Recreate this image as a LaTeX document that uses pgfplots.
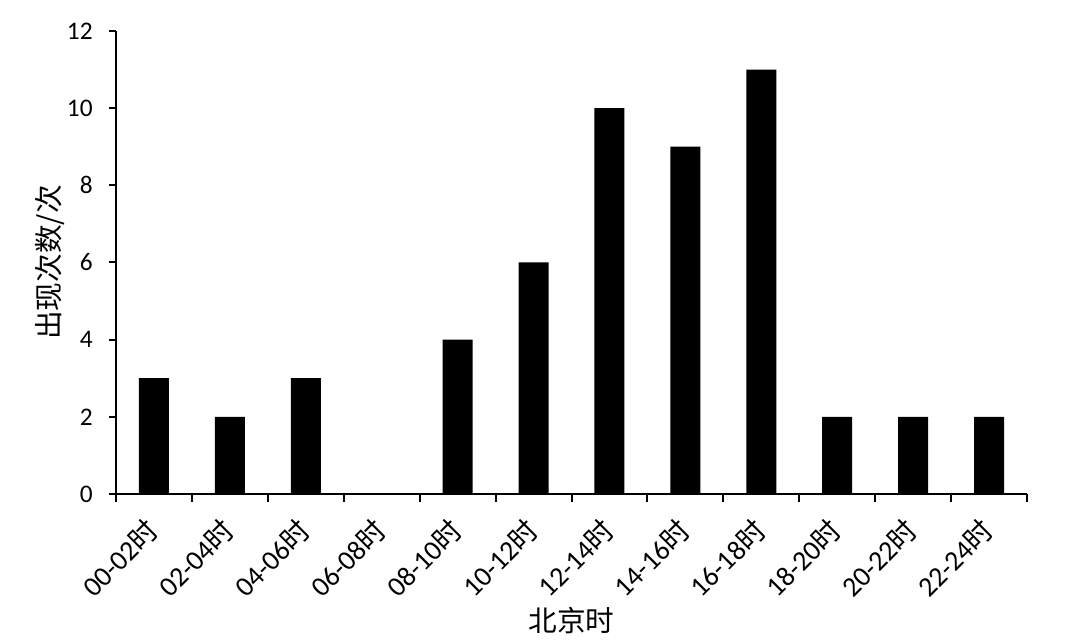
\documentclass[border=0pt]{standalone}
\usepackage{fontspec}
\setmainfont{Carlito}
\newfontfamily\cjk{Noto Sans CJK SC}
\usepackage{pgfplots}
\pgfplotsset{compat=1.18}
\begin{document}
\begin{tikzpicture}[x=1pt,y=1pt]
\path (0,0) rectangle (800.25,480.75);
\begin{axis}[
  at={(87pt,110.25pt)}, anchor=south west,
  width=683.25pt, height=347.25pt, scale only axis,
  ybar, bar width=22.5pt,
  xmin=-0.5, xmax=11.5, ymin=0, ymax=12,
  axis lines*=left,
  axis line style={line width=1.5pt},
  every tick/.style={black, line width=1.5pt},
  tick align=outside,
  xtick={0,...,11},
  major x tick style={draw=none},
  minor xtick={-0.5,0.5,...,11.5},
  minor tick length=6pt,
  major tick length=5pt,
  ytick={0,2,...,12},
  /pgf/number format/assume math mode=true,
  yticklabel style={xshift=-9pt, font=\fontsize{19}{21}\selectfont},
  xticklabels={00-02{\cjk 时},02-04{\cjk 时},04-06{\cjk 时},06-08{\cjk 时},08-10{\cjk 时},10-12{\cjk 时},12-14{\cjk 时},14-16{\cjk 时},16-18{\cjk 时},18-20{\cjk 时},20-22{\cjk 时},22-24{\cjk 时}},
  xticklabel style={anchor=north east, inner sep=1pt, xshift=-7.5pt, yshift=-10pt, rotate=45, font=\fontsize{21}{23}\selectfont},
  ylabel={{\cjk 出现次数/次}},
  ylabel style={at={(axis description cs:-0.0725,0.5)}, anchor=center, font=\fontsize{21.5}{23}\selectfont},
  xlabel={{\cjk 北京时}},
  xlabel style={at={(axis description cs:0.5,0)}, yshift=-95pt, anchor=center, font=\fontsize{21.5}{23}\selectfont},
  clip=false,
]
\addplot[fill=black, draw=none] coordinates {
(0,3) (1,2) (2,3) (3,0) (4,4) (5,6) (6,10) (7,9) (8,11) (9,2) (10,2) (11,2)};
\end{axis}
\end{tikzpicture}
\end{document}
